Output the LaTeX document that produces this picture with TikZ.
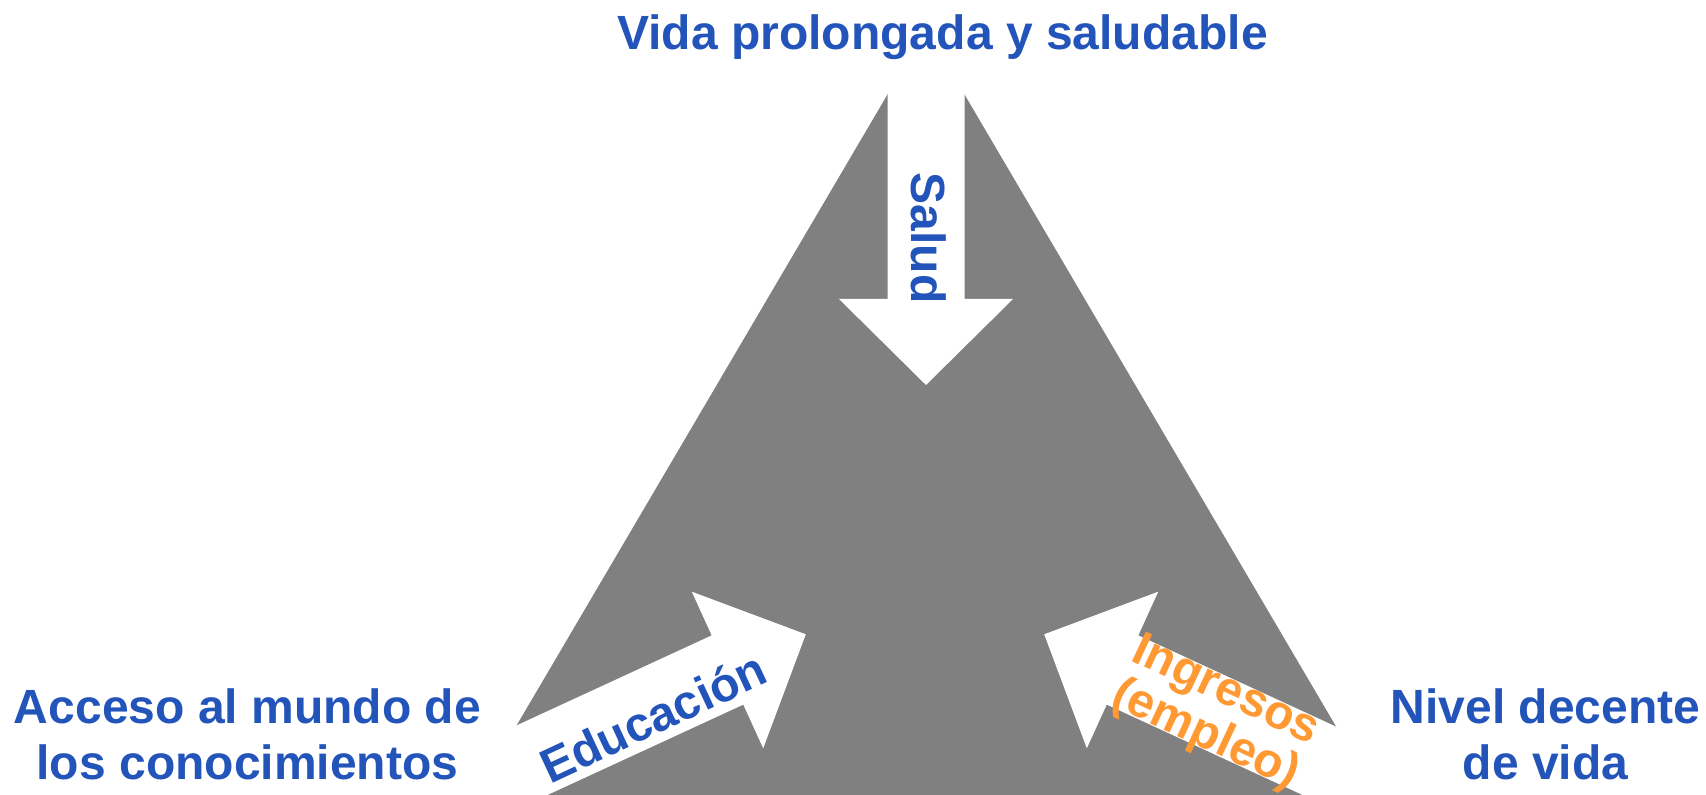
\documentclass[tikz,border=0pt]{standalone}
\usepackage{fontspec}
\setmainfont{Liberation Sans}
\usepackage{tikz}
\definecolor{idhblue}{RGB}{34,84,186}
\definecolor{idhorange}{RGB}{255,153,51}
\definecolor{idhgray}{RGB}{128,128,128}

\begin{document}
\begin{tikzpicture}[
    x=0.01cm,
    y=-0.01cm,
    dim/.style={font=\fontsize{13.66pt}{16.1pt}\selectfont\bfseries,text=idhblue,inner sep=0pt},
    flecha/.style={fill=white},
]
    \useasboundingbox (0,0) rectangle (1706,795);
    \clip (0,0) rectangle (1706,795);
    \fill[idhgray] (926,29) -- (414,900) -- (1438,900) -- cycle;
    % salud
    \fill[flecha] (887.5,0) -- (887.5,299) -- (839,299) -- (926,385) -- (1013,299) -- (964.5,299) -- (964.5,0) -- cycle;
    % educacion
    \fill[flecha] (348.5,803) -- (711.7,635.4) -- (691.8,591.7) -- (805.8,634.3) -- (763.2,748.3) -- (743.3,704.6) -- (380.1,872.2) -- cycle;
    % ingresos
    \fill[flecha] (1501.5,803) -- (1138.3,635.4) -- (1158.2,591.7) -- (1044.2,634.3) -- (1086.8,748.3) -- (1106.7,704.6) -- (1469.9,872.2) -- cycle;
    \node[dim,anchor=base] (vida) at (942.5,50) {Vida prolongada y saludable};
    \node[dim,anchor=base,align=center] (acceso) at (247.5,780) {Acceso al mundo de\\los conocimientos};
    \node[dim,anchor=base,align=center] (nivel) at (1545.5,780) {Nivel decente\\de vida};
    \node[dim,rotate=-90] (salud) at (929,238) {Salud};
    \node[dim,rotate=25] (educ) at (653,717) {Educación};
    \node[dim,text=idhorange,rotate=-25,align=center,font=\fontsize{13.66pt}{13.8pt}\selectfont\bfseries] (ingr) at (1215,714) {Ingresos\\(empleo)};
\end{tikzpicture}
\end{document}
